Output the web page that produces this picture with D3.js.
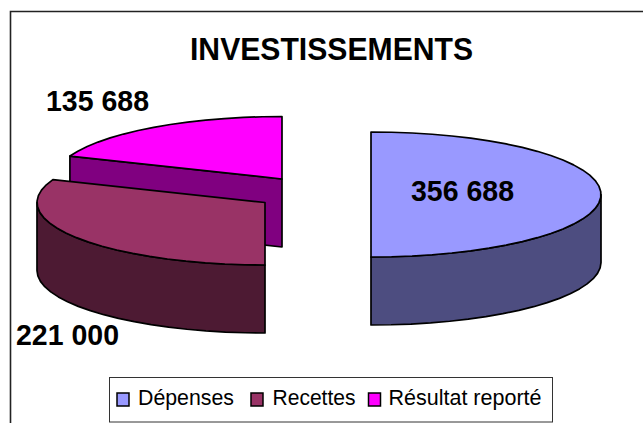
<!DOCTYPE html>
<html>
<head>
<meta charset="utf-8">
<script src="https://cdn.jsdelivr.net/npm/d3@7"></script>
<style>
  html, body { margin: 0; padding: 0; background: #fff; }
  svg { display: block; }
  text { font-family: "Liberation Sans", Arial, sans-serif; fill: #000; }
</style>
</head>
<body>
<div id="chart"></div>
<script>
const categories = ['Dépenses', 'Recettes', 'Résultat reporté'];
const values = [356688, 221000, 135688];
const valueLabels = ['356 688', '221 000', '135 688'];
const topColors = ['#9999ff', '#993366', '#ff00ff'];
const sideColors = ['#4d4d80', '#4d1a33', '#800080'];

const width = 643, height = 423;
const ry = 62.5, depth = 68;

// exploded centre of each slice
const centers = [[371, 194.5], [265, 202.5], [282, 179]];
const radii = [230, 228, 228];
const labelPos = [[411, 201], [16, 345], [46, 111]];

const svg = d3.select('#chart').append('svg')
    .attr('width', width)
    .attr('height', height);

// frame, only top and left show in the window
svg.append('path')
    .attr('d', 'M10.5,' + height + 'V11.5H' + width)
    .attr('fill', 'none')
    .attr('stroke', '#222')
    .attr('stroke-width', 1.6);

svg.append('text')
    .attr('x', 190)
    .attr('y', 60)
    .attr('font-size', 32)
    .attr('font-weight', 'bold')
    .attr('textLength', 283)
    .attr('lengthAdjust', 'spacingAndGlyphs')
    .text('INVESTISSEMENTS');

const y = d3.scaleLinear().domain([-1, 1]).range([ry, -ry]);
const line = d3.line();

const slices = d3.pie().sort(null)(values);

function pt(i, a, dy) {
    const c = centers[i];
    const x = d3.scaleLinear().domain([-1, 1]).range([-radii[i], radii[i]]);
    return [c[0] + x(Math.sin(a)), c[1] + y(Math.cos(a)) + (dy || 0)];
}

function arcPoints(i, a0, a1, dy) {
    const n = Math.max(2, Math.ceil((a1 - a0) / 0.09));
    return d3.range(n + 1).map(k => pt(i, a0 + (a1 - a0) * k / n, dy));
}

const shape = g => g
    .attr('stroke', '#000')
    .attr('stroke-width', 1.7)
    .attr('stroke-linejoin', 'round');

// back slices first so the front ones cover them
[2, 1, 0].forEach(i => {
    const s = slices[i], c = centers[i];
    const g = svg.append('g').call(shape);

    // cut face, seen only when it turns toward the viewer
    if (s.startAngle > Math.PI && s.startAngle < 2 * Math.PI) {
        const top = [c, pt(i, s.startAngle)];
        const bottom = top.map(p => [p[0], p[1] + depth]).reverse();
        g.append('path')
            .attr('d', line(top.concat(bottom)) + 'Z')
            .attr('fill', sideColors[i]);
    }

    // outer wall on the front half of the ellipse
    const a0 = Math.max(s.startAngle, Math.PI / 2);
    const a1 = Math.min(s.endAngle, 3 * Math.PI / 2);
    if (a1 > a0) {
        const wall = arcPoints(i, a0, a1).concat(arcPoints(i, a0, a1, depth).reverse());
        g.append('path')
            .attr('d', line(wall) + 'Z')
            .attr('fill', sideColors[i]);
    }

    // top face
    g.append('path')
        .attr('d', line([c].concat(arcPoints(i, s.startAngle, s.endAngle))) + 'Z')
        .attr('fill', topColors[i]);
});

valueLabels.forEach((t, i) => {
    svg.append('text')
        .attr('x', labelPos[i][0])
        .attr('y', labelPos[i][1])
        .attr('font-size', 30)
        .attr('font-weight', 'bold')
        .attr('textLength', 103)
        .attr('lengthAdjust', 'spacingAndGlyphs')
        .text(t);
});

// legend
const legend = svg.append('g');
legend.append('rect')
    .attr('x', 109.5)
    .attr('y', 377.5)
    .attr('width', 443)
    .attr('height', 44.5)
    .attr('fill', '#fff')
    .attr('stroke', '#333')
    .attr('stroke-width', 1);

const swatchX = [117, 251, 368.5];
const textX = [138, 272.5, 388.5];
const textW = [96, 83, 153];
categories.forEach((name, i) => {
    legend.append('rect')
        .attr('x', swatchX[i])
        .attr('y', 393)
        .attr('width', 12)
        .attr('height', 13)
        .attr('fill', topColors[i])
        .attr('stroke', '#000')
        .attr('stroke-width', 1.5);
    legend.append('text')
        .attr('x', textX[i])
        .attr('y', 405)
        .attr('font-size', 22.5)
        .attr('textLength', textW[i])
        .attr('lengthAdjust', 'spacingAndGlyphs')
        .text(name);
});
</script>
</body>
</html>
